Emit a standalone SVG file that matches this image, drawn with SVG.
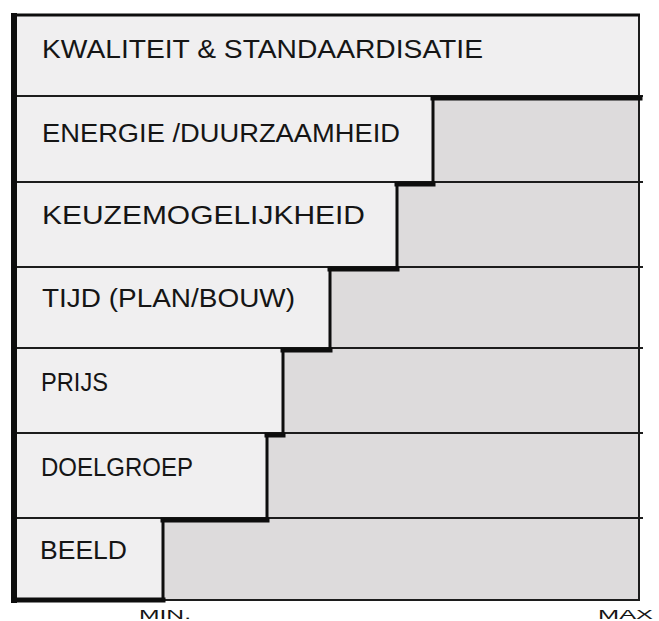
<svg xmlns="http://www.w3.org/2000/svg" width="659" height="621" viewBox="0 0 659 621">
<style>
.w{fill:#f0eff0}
.g{fill:#dddbdc}
.t{font-family:"Liberation Sans",Arial,sans-serif;font-size:25px;fill:#151515}
.s{font-family:"Liberation Sans",Arial,sans-serif;font-size:13px;fill:#151515}
.ln{stroke:#1c1c1c;stroke-width:2;fill:none}
.thick{stroke:#0d0d0d;stroke-width:5;fill:none;stroke-linecap:square}
.mid{stroke:#0d0d0d;stroke-width:3;fill:none}
</style>
<rect width="659" height="621" fill="#ffffff"/>
<g id="row-kwaliteit">
<rect class="w" x="13" y="15" width="626" height="81"/>
<text class="t" x="42" y="58" textLength="441" lengthAdjust="spacingAndGlyphs">KWALITEIT &amp; STANDAARDISATIE</text>
</g>
<g id="row-energie">
<rect class="w" x="13" y="96" width="420" height="86"/>
<rect class="g" x="433" y="96" width="206" height="86"/>
<text class="t" x="42" y="142" textLength="358" lengthAdjust="spacingAndGlyphs">ENERGIE /DUURZAAMHEID</text>
</g>
<g id="row-keuze">
<rect class="w" x="13" y="182" width="384" height="85"/>
<rect class="g" x="397" y="182" width="242" height="85"/>
<text class="t" x="42" y="224" textLength="323" lengthAdjust="spacingAndGlyphs">KEUZEMOGELIJKHEID</text>
</g>
<g id="row-tijd">
<rect class="w" x="13" y="267" width="317" height="81"/>
<rect class="g" x="330" y="267" width="309" height="81"/>
<text class="t" x="42" y="307" textLength="253" lengthAdjust="spacingAndGlyphs">TIJD (PLAN/BOUW)</text>
</g>
<g id="row-prijs">
<rect class="w" x="13" y="348" width="270" height="85"/>
<rect class="g" x="283" y="348" width="356" height="85"/>
<text class="t" x="41" y="391" textLength="67" lengthAdjust="spacingAndGlyphs">PRIJS</text>
</g>
<g id="row-doelgroep">
<rect class="w" x="13" y="433" width="254" height="85"/>
<rect class="g" x="267" y="433" width="372" height="85"/>
<text class="t" x="41" y="476" textLength="152" lengthAdjust="spacingAndGlyphs">DOELGROEP</text>
</g>
<g id="row-beeld">
<rect class="w" x="13" y="518" width="150" height="82"/>
<rect class="g" x="163" y="518" width="476" height="82"/>
<text class="t" x="40" y="559" textLength="87" lengthAdjust="spacingAndGlyphs">BEELD</text>
</g>
<g id="lines">
<path class="ln" d="M13 96H643M13 182H643M13 267H643M13 348H643M13 433H643M13 518H643M163 600H639"/>
<path class="ln" d="M639 14V601"/>
<path class="mid" d="M13 15H640"/>
<path stroke="#0d0d0d" stroke-width="6" fill="none" d="M14 13V603"/>
<path class="thick" d="M433 98H640M397 184H433M330 269H397M283 350H330M267 435H283M163 520H267M14 600H163"/>
<path class="mid" d="M433 96V184M397 182V269M330 267V350M283 348V435M267 433V520M163 518V601"/>
</g>
<g id="axis">
<text class="s" x="139" y="619" textLength="52" lengthAdjust="spacingAndGlyphs">MIN.</text>
<text class="s" x="598" y="619" textLength="55" lengthAdjust="spacingAndGlyphs">MAX</text>
</g>
</svg>
